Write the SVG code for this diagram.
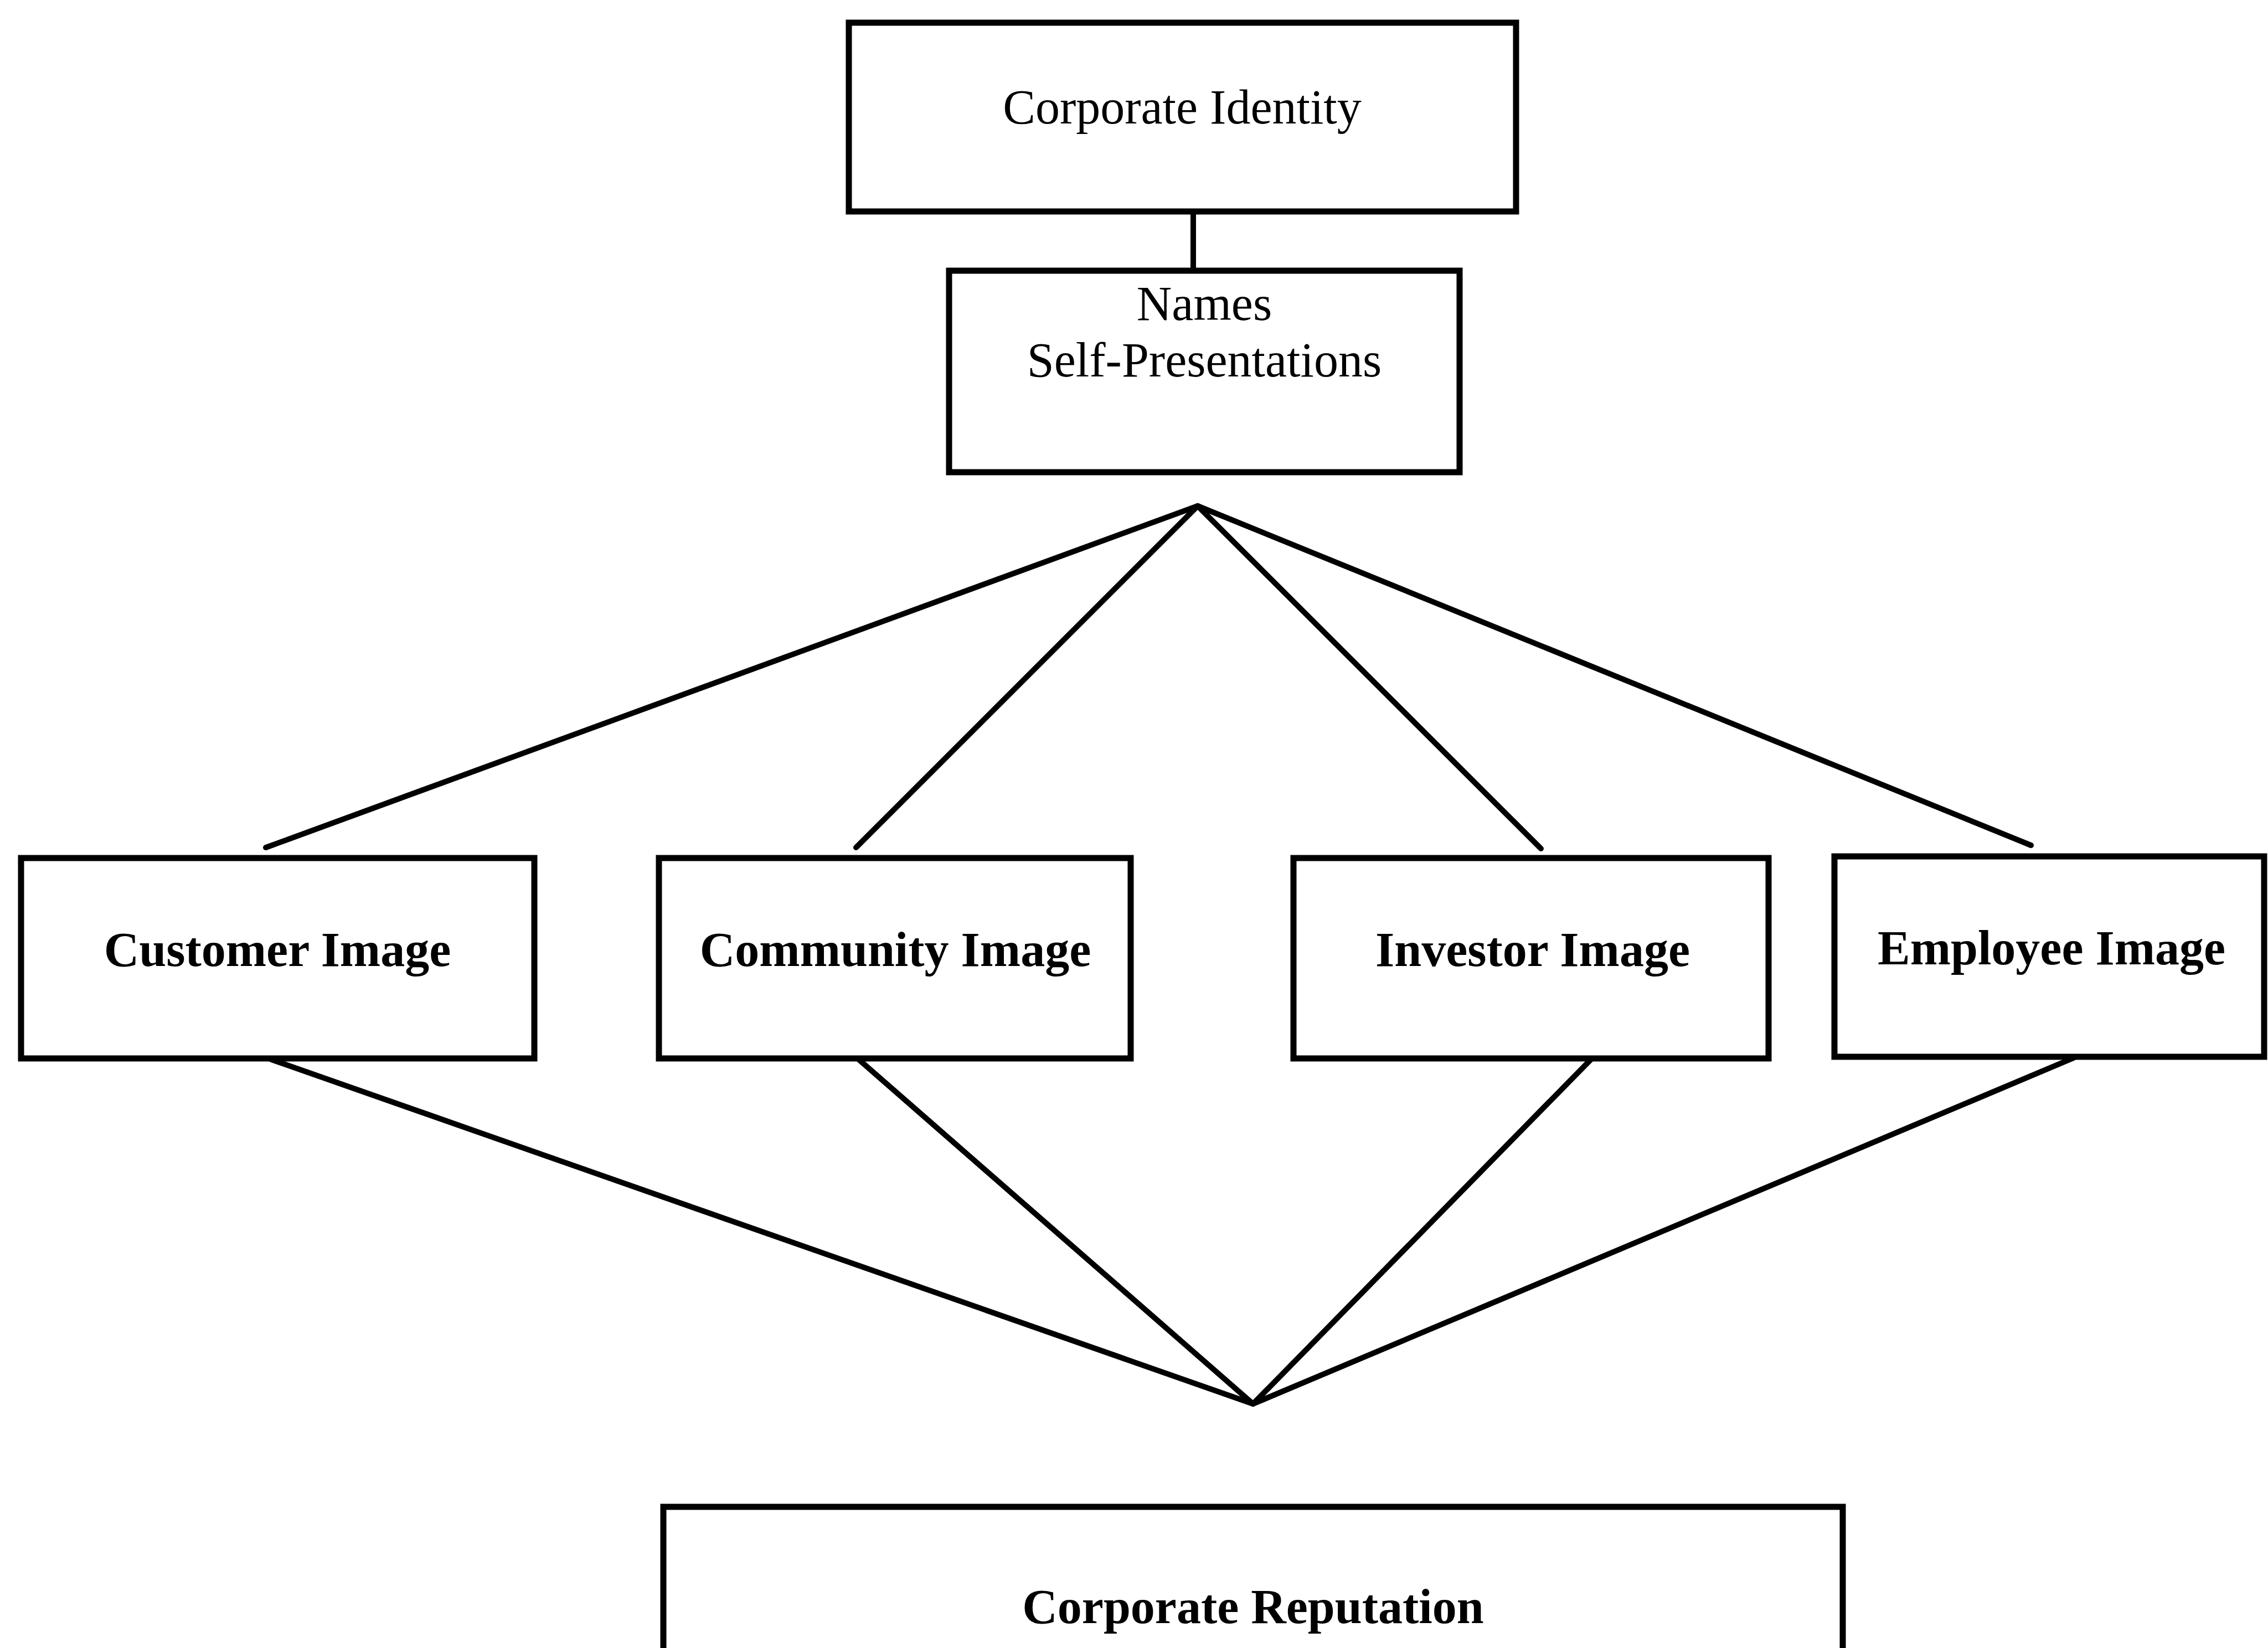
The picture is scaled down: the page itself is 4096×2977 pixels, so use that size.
<svg xmlns="http://www.w3.org/2000/svg" width="4096" height="2977" viewBox="0 0 4096 2977">
  <style>
    .box { fill: #ffffff; stroke: #000000; stroke-width: 11; }
    .link { stroke: #000000; stroke-width: 10; fill: none; stroke-linecap: round; stroke-linejoin: round; }
    .label { font-family: "Liberation Serif", "Times New Roman", serif; font-size: 88px; fill: #000000; text-anchor: middle; }
    .strong { font-weight: bold; font-size: 88px; }
  </style>
  <rect x="0" y="0" width="4096" height="2977" fill="#ffffff"/>

  <!-- connectors -->
  <g id="connectors">
    <line class="link" x1="2155" y1="384" x2="2155" y2="488"/>
    <line class="link" x1="2163" y1="914" x2="480" y2="1531"/>
    <line class="link" x1="2163" y1="914" x2="1546" y2="1531"/>
    <line class="link" x1="2163" y1="914" x2="2783" y2="1533"/>
    <line class="link" x1="2163" y1="914" x2="3668" y2="1527"/>
    <line class="link" x1="490" y1="1914" x2="2263" y2="2536"/>
    <line class="link" x1="1551" y1="1914" x2="2263" y2="2536"/>
    <line class="link" x1="2873" y1="1914" x2="2263" y2="2536"/>
    <line class="link" x1="3745" y1="1911" x2="2263" y2="2536"/>
  </g>

  <g id="corporate-identity">
    <rect class="box" x="1533" y="41" width="1205" height="341"/>
    <text class="label" x="2135" y="223">Corporate Identity</text>
  </g>

  <g id="names">
    <rect class="box" x="1714" y="489" width="922" height="364"/>
    <text class="label" x="2175" y="578">Names</text>
    <text class="label" x="2175" y="680">Self-Presentations</text>
  </g>

  <g id="customer-image">
    <rect class="box" x="38" y="1550" width="927" height="362"/>
    <text class="label strong" x="501" y="1745">Customer Image</text>
  </g>

  <g id="community-image">
    <rect class="box" x="1190" y="1550" width="852" height="362"/>
    <text class="label strong" x="1617" y="1745">Community Image</text>
  </g>

  <g id="investor-image">
    <rect class="box" x="2336" y="1550" width="858" height="362"/>
    <text class="label strong" x="2768" y="1745">Investor Image</text>
  </g>

  <g id="employee-image">
    <rect class="box" x="3313" y="1547" width="776" height="362"/>
    <text class="label strong" x="3705" y="1742">Employee Image</text>
  </g>

  <g id="corporate-reputation">
    <rect class="box" x="1198" y="2722" width="2130" height="320"/>
    <text class="label strong" x="2263" y="2932">Corporate Reputation</text>
  </g>
</svg>
